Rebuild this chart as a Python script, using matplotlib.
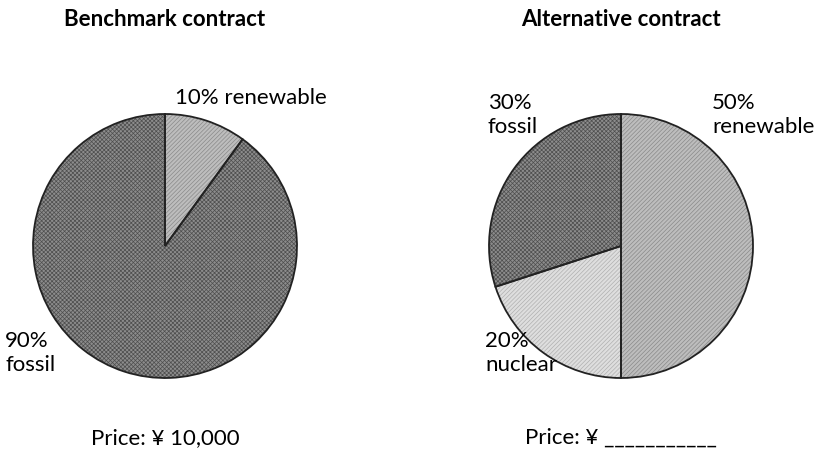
import matplotlib
matplotlib.use("Agg")
import matplotlib.pyplot as plt

plt.rcParams['font.family'] = ['Lato', 'DejaVu Sans']
plt.rcParams['hatch.linewidth'] = 0.5

# Data
bench_labels = ["renewable", "fossil"]
bench_values = [10, 90]
alt_labels = ["renewable", "nuclear", "fossil"]
alt_values = [50, 20, 30]
titles = ["Benchmark contract", "Alternative contract"]
prices = ["Price: ¥ 10,000", "Price: ¥ ___________"]

face = {"renewable": "#bdbdbd", "fossil": "#8c8c8c", "nuclear": "#dedede"}
hatch_col = {"renewable": "#8a8a8a", "fossil": "#4e4e4e", "nuclear": "#b0b0b0"}
hatches = {"renewable": "////////", "fossil": "xxxxxxxx", "nuclear": "////////"}

W, H = 819, 451
fig = plt.figure(figsize=(W / 100, H / 100), dpi=100)

def px_axes(cx, cy, r):
    return fig.add_axes([(cx - r) / W, 1 - (cy + r) / H, 2 * r / W, 2 * r / H])

def draw_pie(ax, labels, values):
    cols = [face[l] for l in labels]
    wedges, _ = ax.pie(values, startangle=90, counterclock=False, colors=cols,
                       wedgeprops=dict(linewidth=0))
    for w, l in zip(wedges, labels):
        w.set_hatch(hatches[l])
        w.set_edgecolor(hatch_col[l])
        w.set_linewidth(0)
    ax.pie(values, startangle=90, counterclock=False,
           wedgeprops=dict(fill=False, edgecolor="#222222", linewidth=1.3))
    ax.set_xlim(-1.0, 1.0)
    ax.set_ylim(-1.0, 1.0)
    ax.set_aspect("equal")
    ax.axis("off")

ax1 = px_axes(165, 246, 132)
draw_pie(ax1, bench_labels, bench_values)
ax2 = px_axes(621, 246, 132)
draw_pie(ax2, alt_labels, alt_values)

def ftext(x, y, s, **kw):
    fig.text(x / W, 1 - y / H, s, **kw)

fs = 16
ls = 1.3
ftext(165, 19, titles[0], ha="center", va="center", fontsize=16, fontweight="bold")
ftext(621, 19, titles[1], ha="center", va="center", fontsize=16, fontweight="bold")

ftext(175, 98, f"{bench_values[0]}% {bench_labels[0]}", ha="left", va="center", fontsize=fs)
ftext(5, 353, f"{bench_values[1]}%\n{bench_labels[1]}", ha="left", va="center", fontsize=fs, linespacing=ls)
ftext(488, 115, f"{alt_values[2]}%\n{alt_labels[2]}", ha="left", va="center", fontsize=fs, linespacing=ls)
ftext(712, 115, f"{alt_values[0]}%\n{alt_labels[0]}", ha="left", va="center", fontsize=fs, linespacing=ls)
ftext(485, 353, f"{alt_values[1]}%\n{alt_labels[1]}", ha="left", va="center", fontsize=fs, linespacing=ls)

ftext(165, 438, prices[0], ha="center", va="center", fontsize=fs)
ftext(621, 438, prices[1], ha="center", va="center", fontsize=fs)

fig.savefig("out.png", dpi=100)
